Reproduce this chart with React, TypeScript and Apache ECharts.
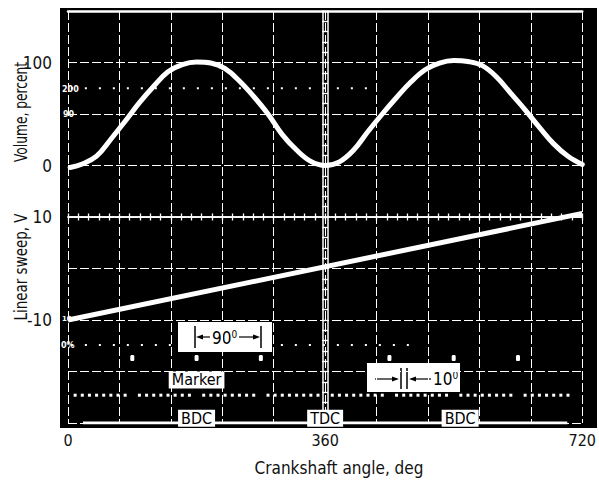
import React, { useEffect, useRef } from "react";
import * as echarts from "echarts";

// Volume trace (crank angle deg, volume percent)
const volAngle = [3, 20, 40, 60, 80, 100, 120, 140, 160, 180, 200, 220, 240, 260, 280, 300, 320, 340, 360, 380, 400, 420, 440, 460, 480, 500, 520, 540, 560, 580, 600, 620, 640, 660, 680, 700, 720];
const volValue = [-2, 1.5, 9, 25.5, 43, 61, 77, 91, 98, 100.5, 99.5, 94, 82, 67, 50, 30, 15, 4, 0, 3.5, 15, 33, 50, 66, 81, 93, 99.5, 102, 101, 97, 86, 70, 54, 37, 21, 9, 1];

// Linear sweep trace (deg, volts)
const sweepAngle = [0, 720];
const sweepValue = [-10, 10.7];

// 90-degree marker pips (deg) and their level (V on sweep scale)
const markerAngles = [90, 180, 270, 450, 540, 630];
const markerLevel = -17.4;

// 10-degree pips (deg) and level
const pipAngles = [10, 20, 30, 40, 50, 60, 70, 80, 100, 110, 120, 130, 140, 150, 160, 170, 190, 200, 210, 220, 230, 240, 250, 260, 280, 290, 300, 310, 320, 330, 340, 350, 370, 380, 390, 400, 410, 420, 430, 440, 460, 470, 480, 490, 500, 510, 520, 530, 550, 560, 570, 580, 590, 600, 610, 620, 640, 650, 660, 670, 680, 690, 700];
const pipLevel = -24.6;

// base trace
const baseAngle = [21, 699];
const baseLevel = -30;

// dotted reference traces
const dot75Angle = [4, 430];
const dot75Value = 75;
const dotLowAngle = [4, 480];
const dotLowValue = -14.85;

// position labels
const posLabels = ["BDC", "TDC", "BDC"];
const posAngles = [180, 360, 549];
const posLevel = -29.1;
const markerTextAngle = 180;
const markerTextLevel = -21.65;

const xTickLabels = [0, 360, 720];
const volTickLabels = [0, 100];
const sweepTickLabels = [-10, 10];

const FONT = "'Liberation Sans Narrow', 'DejaVu Sans Condensed', 'Roboto Condensed', 'Liberation Sans', sans-serif";
const WHITE = "#ffffff";

export default function App() {
  const ref = useRef<HTMLDivElement>(null);

  useEffect(() => {
    if (!ref.current) return;
    const chart = echarts.init(ref.current, undefined, { renderer: "svg" });

    const dashed = { color: WHITE, width: 1, type: [9, 3] as number[] };

    const centerX = (position: "top" | "bottom") => ({
      type: "value",
      min: 0,
      max: 720,
      interval: 14.4,
      position,
      offset: -206,
      axisLine: { show: true, onZero: false, lineStyle: { color: WHITE, width: 1.5 } },
      axisTick: { show: true, length: 3.5, lineStyle: { color: WHITE, width: 1.3 } },
      axisLabel: { show: false },
      splitLine: { show: false },
    });
    const centerY = (position: "left" | "right") => ({
      type: "value",
      min: 0,
      max: 8,
      interval: 0.2,
      position,
      offset: -260,
      axisLine: { show: true, onZero: false, lineStyle: { color: WHITE, width: 1.5 } },
      axisTick: { show: true, length: 3.5, lineStyle: { color: WHITE, width: 1.3 } },
      axisLabel: { show: false },
      splitLine: { show: false },
    });

    const labelStyle = { color: "#111", fontFamily: FONT, fontSize: 17 };

    const option: any = {
      animation: false,
      backgroundColor: "#ffffff",
      grid: { left: 68, right: 11, top: 11, bottom: 60 },
      xAxis: [
        {
          type: "value",
          min: 0,
          max: 720,
          interval: 72,
          position: "bottom",
          axisLine: { show: false, onZero: false },
          axisTick: { show: false },
          splitLine: { show: true, lineStyle: dashed },
          axisLabel: {
            ...labelStyle,
            fontSize: 16,
            margin: 9,
            formatter: (v: number) => (xTickLabels.includes(Math.round(v)) ? String(Math.round(v)) : ""),
          },
        },
        centerX("bottom"),
        centerX("top"),
        {
          type: "value",
          min: 0,
          max: 720,
          position: "top",
          axisLine: { show: true, onZero: false, lineStyle: { color: WHITE, width: 2.5 } },
          axisTick: { show: false },
          axisLabel: { show: false },
          splitLine: { show: false },
        },
      ],
      yAxis: [
        {
          type: "value",
          min: -250,
          max: 150,
          interval: 50,
          position: "left",
          axisLine: { show: false, onZero: false },
          axisTick: { show: false },
          splitLine: { show: true, lineStyle: dashed },
          axisLabel: {
            ...labelStyle,
            margin: 16,
            formatter: (v: number) => (volTickLabels.includes(v) ? String(v) : ""),
          },
        },
        {
          type: "value",
          min: -30,
          max: 50,
          interval: 10,
          position: "left",
          axisLine: { show: false, onZero: false },
          axisTick: { show: false },
          splitLine: { show: false },
          axisLabel: {
            ...labelStyle,
            margin: 16,
            formatter: (v: number) => (sweepTickLabels.includes(v) ? String(v) : ""),
          },
        },
        centerY("left"),
        centerY("right"),
      ],
      series: [
        {
          name: "dot75",
          type: "line",
          xAxisIndex: 0,
          yAxisIndex: 0,
          data: dot75Angle.map((a) => [a, dot75Value]),
          showSymbol: false,
          lineStyle: { color: WHITE, width: 2, type: [2, 12] },
          z: 1,
        },
        {
          name: "dotLow",
          type: "line",
          xAxisIndex: 0,
          yAxisIndex: 1,
          data: dotLowAngle.map((a) => [a, dotLowValue]),
          showSymbol: false,
          lineStyle: { color: WHITE, width: 2, type: [2, 12] },
          z: 1,
        },
        {
          name: "base",
          type: "line",
          xAxisIndex: 0,
          yAxisIndex: 1,
          data: baseAngle.map((a) => [a, baseLevel]),
          showSymbol: false,
          lineStyle: { color: WHITE, width: 3 },
        },
        {
          name: "Volume",
          type: "line",
          xAxisIndex: 0,
          yAxisIndex: 0,
          data: volAngle.map((a, i) => [a, volValue[i]]),
          smooth: 0.4,
          showSymbol: false,
          lineStyle: { color: WHITE, width: 5, cap: "round" },
        },
        {
          name: "Sweep",
          type: "line",
          xAxisIndex: 0,
          yAxisIndex: 1,
          data: sweepAngle.map((a, i) => [a, sweepValue[i]]),
          showSymbol: false,
          lineStyle: { color: WHITE, width: 5 },
        },
        {
          name: "Markers",
          type: "scatter",
          xAxisIndex: 0,
          yAxisIndex: 1,
          data: markerAngles.map((a) => [a, markerLevel]),
          symbol: "roundRect",
          symbolSize: [4, 6],
          itemStyle: { color: WHITE, opacity: 1 },
        },
        {
          name: "Pips",
          type: "scatter",
          xAxisIndex: 0,
          yAxisIndex: 1,
          data: pipAngles.map((a) => [a, pipLevel]),
          symbol: "rect",
          symbolSize: [3, 3],
          itemStyle: { color: WHITE, opacity: 1 },
        },
        {
          name: "Labels",
          type: "scatter",
          xAxisIndex: 0,
          yAxisIndex: 1,
          symbolSize: 0,
          itemStyle: { opacity: 1 },
          data: [
            ...posAngles.map((a, i) => [a, posLevel, posLabels[i]]),
            [markerTextAngle, markerTextLevel, "Marker"],
          ],
          label: {
            show: true,
            position: "inside",
            formatter: (p: any) => p.data[2],
            color: "#000",
            opacity: 1,
            backgroundColor: "#fff",
            fontFamily: FONT,
            fontSize: 16,
            lineHeight: 17,
            padding: [0, 3, 0, 3],
          },
          z: 10,
        },
      ],
      graphic: [
        {
          type: "rect",
          z: -100,
          silent: true,
          shape: { x: 60, y: 8, width: 537, height: 420 },
          style: { fill: "#000" },
        },
        {
          type: "group",
          z: 100,
          children: [
            // small in-panel labels
            { type: "text", x: 62, y: 89, style: { text: "200", fill: WHITE, font: "bold 8px 'DejaVu Sans'", textVerticalAlign: "middle" } },
            { type: "text", x: 63, y: 114, style: { text: "90", fill: WHITE, font: "bold 8px 'DejaVu Sans'", textVerticalAlign: "middle" } },
            { type: "text", x: 62, y: 319, style: { text: "10", fill: WHITE, font: "bold 7px 'DejaVu Sans'", textVerticalAlign: "middle" } },
            { type: "text", x: 61, y: 345, style: { text: "0%", fill: WHITE, font: "bold 8px 'DejaVu Sans'", textVerticalAlign: "middle" } },
            // axis titles
            {
              type: "text",
              x: 21,
              y: 112,
              rotation: Math.PI / 2,
              scaleX: 0.8,
              style: { text: "Volume, percent", fill: "#111", font: `17px ${FONT}`, textAlign: "center", textVerticalAlign: "middle" },
            },
            {
              type: "text",
              x: 21,
              y: 267,
              rotation: Math.PI / 2,
              scaleX: 0.88,
              style: { text: "Linear sweep, V", fill: "#111", font: `17px ${FONT}`, textAlign: "center", textVerticalAlign: "middle" },
            },
            {
              type: "text",
              x: 339,
              y: 468,
              style: { text: "Crankshaft angle, deg", fill: "#111", font: `17px ${FONT}`, textAlign: "center", textVerticalAlign: "middle" },
            },
            // 90 degree box
            { type: "rect", shape: { x: 178, y: 322, width: 94, height: 30 }, style: { fill: "#fff" } },
            { type: "line", shape: { x1: 195, y1: 326, x2: 195, y2: 348 }, style: { stroke: "#000", lineWidth: 1.5 } },
            { type: "line", shape: { x1: 261, y1: 326, x2: 261, y2: 348 }, style: { stroke: "#000", lineWidth: 1.5 } },
            { type: "line", shape: { x1: 200, y1: 337, x2: 210, y2: 337 }, style: { stroke: "#000", lineWidth: 1.2 } },
            { type: "polygon", shape: { points: [[196, 337], [203, 334.5], [203, 339.5]] }, style: { fill: "#000" } },
            { type: "line", shape: { x1: 239, y1: 337, x2: 256, y2: 337 }, style: { stroke: "#000", lineWidth: 1.2 } },
            { type: "polygon", shape: { points: [[260, 337], [253, 334.5], [253, 339.5]] }, style: { fill: "#000" } },
            {
              type: "text",
              x: 212,
              y: 338,
              style: {
                text: "{n|90}{s|0}",
                textVerticalAlign: "middle",
                rich: {
                  n: { fontFamily: FONT, fontSize: 17, fill: "#000", color: "#000" },
                  s: { fontFamily: FONT, fontSize: 10, fill: "#000", color: "#000", verticalAlign: "top", padding: [0, 0, 8, 0] },
                },
              },
            },
            // 10 degree box
            { type: "rect", shape: { x: 367, y: 363, width: 93, height: 29 }, style: { fill: "#fff" } },
            { type: "line", shape: { x1: 375, y1: 379, x2: 395, y2: 379 }, style: { stroke: "#000", lineWidth: 1.2 } },
            { type: "polygon", shape: { points: [[399, 379], [392, 376.5], [392, 381.5]] }, style: { fill: "#000" } },
            { type: "line", shape: { x1: 401, y1: 368, x2: 401, y2: 389 }, style: { stroke: "#000", lineWidth: 1.5 } },
            { type: "line", shape: { x1: 407, y1: 368, x2: 407, y2: 389 }, style: { stroke: "#000", lineWidth: 1.5 } },
            { type: "polygon", shape: { points: [[409, 379], [416, 376.5], [416, 381.5]] }, style: { fill: "#000" } },
            { type: "line", shape: { x1: 413, y1: 379, x2: 431, y2: 379 }, style: { stroke: "#000", lineWidth: 1.2 } },
            {
              type: "text",
              x: 433,
              y: 379,
              style: {
                text: "{n|10}{s|0}",
                textVerticalAlign: "middle",
                rich: {
                  n: { fontFamily: FONT, fontSize: 17, fill: "#000", color: "#000" },
                  s: { fontFamily: FONT, fontSize: 10, fill: "#000", color: "#000", verticalAlign: "top", padding: [0, 0, 8, 0] },
                },
              },
            },
          ],
        },
      ],
    };

    chart.setOption(option);
    return () => chart.dispose();
  }, []);

  return <div ref={ref} style={{ width: 599, height: 483, position: "absolute", left: 0, top: 0 }} />;
}
